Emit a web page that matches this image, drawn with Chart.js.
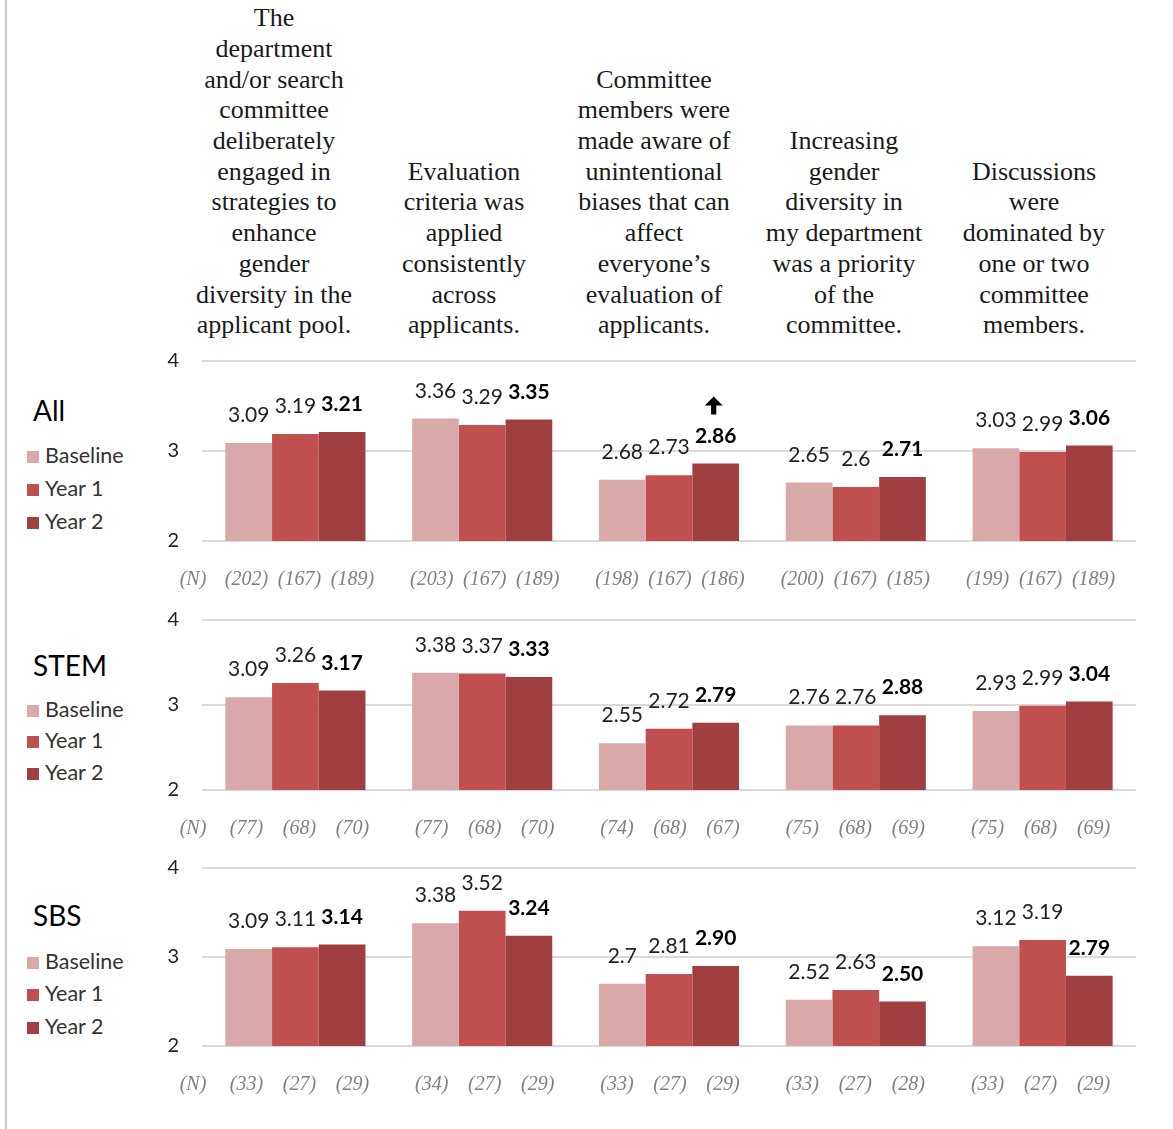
<!DOCTYPE html>
<html>
<head>
<meta charset="utf-8">
<script src="https://cdn.jsdelivr.net/npm/chart.js@4.4.1/dist/chart.umd.min.js"></script>
<style>
  body { margin: 0; background: #fff; width: 1173px; height: 1129px; position: relative; overflow: hidden; font-family: Lato, sans-serif; }
  #edge { position: absolute; left: 5px; top: 0; width: 2px; height: 1129px; background: #c9c9c9; z-index: 5; }
  .head { position: absolute; bottom: 788px; width: 240px; text-align: center; font-family: 'Liberation Serif', serif; font-size: 26px; line-height: 30.7px; color: #1a1a1a; }
  canvas { position: absolute; left: 0; }
  .panel { position: absolute; left: 33px; font-size: 28px; line-height: 34px; color: #000; }
  .leg { position: absolute; left: 27px; font-size: 21.5px; line-height: 24px; color: #333; white-space: nowrap; }
  .leg i { display: inline-block; width: 12px; height: 12px; margin-right: 6px; vertical-align: 0px; }
</style>
</head>
<body>
<div id="edge"></div>
<div id="heads"></div>
<div id="legends"></div>
<canvas id="c0"></canvas>
<canvas id="c1"></canvas>
<canvas id="c2"></canvas>
<script>
// column headers
var questions = [
  ["The", "department", "and/or search", "committee", "deliberately", "engaged in", "strategies to", "enhance", "gender", "diversity in the", "applicant pool."],
  ["Evaluation", "criteria was", "applied", "consistently", "across", "applicants."],
  ["Committee", "members were", "made aware of", "unintentional", "biases that can", "affect", "everyone\u2019s", "evaluation of", "applicants."],
  ["Increasing", "gender", "diversity in", "my department", "was a priority", "of the", "committee."],
  ["Discussions", "were", "dominated by", "one or two", "committee", "members."]
];
var categories = ["Q1", "Q2", "Q3", "Q4", "Q5"];
var seriesNames = ["Baseline", "Year 1", "Year 2"];
var seriesColors = ["#d9a9a9", "#c0504f", "#9f3f3f"];
var yTicks = [2, 3, 4];

// All
var allBaseline = [3.09, 3.36, 2.68, 2.65, 3.03];
var allYear1    = [3.19, 3.29, 2.73, 2.6, 2.99];
var allYear2    = [3.21, 3.35, 2.86, 2.71, 3.06];
var allN = [[202, 167, 189], [203, 167, 189], [198, 167, 186], [200, 167, 185], [199, 167, 189]];

// STEM
var stemBaseline = [3.09, 3.38, 2.55, 2.76, 2.93];
var stemYear1    = [3.26, 3.37, 2.72, 2.76, 2.99];
var stemYear2    = [3.17, 3.33, 2.79, 2.88, 3.04];
var stemN = [[77, 68, 70], [77, 68, 70], [74, 68, 67], [75, 68, 69], [75, 68, 69]];

// SBS
var sbsBaseline = [3.09, 3.38, 2.7, 2.52, 3.12];
var sbsYear1    = [3.11, 3.52, 2.81, 2.63, 3.19];
var sbsYear2    = [3.14, 3.24, 2.90, 2.50, 2.79];
var sbsN = [[33, 27, 29], [34, 27, 29], [33, 27, 29], [33, 27, 28], [33, 27, 29]];

// significant change marker: [panel, category]
var arrows = [[0, 2]];

var panels = [
  { name: "All",  data: [allBaseline, allYear1, allYear2],   n: allN,  top: 361, bottom: 541, nameY: 410, legY: [455, 488, 521] },
  { name: "STEM", data: [stemBaseline, stemYear1, stemYear2], n: stemN, top: 620, bottom: 790, nameY: 665, legY: [709, 740, 772] },
  { name: "SBS",  data: [sbsBaseline, sbsYear1, sbsYear2],   n: sbsN,  top: 868, bottom: 1046, nameY: 915, legY: [961, 993, 1026] }
];

var headX = [274, 464, 654, 844, 1034];
var heads = document.getElementById('heads');
questions.forEach(function (lines, i) {
  var d = document.createElement('div');
  d.className = 'head';
  d.style.left = (headX[i] - 120) + 'px';
  d.innerHTML = lines.join('<br>');
  heads.appendChild(d);
});

var legends = document.getElementById('legends');
panels.forEach(function (p) {
  var t = document.createElement('div');
  t.className = 'panel';
  t.style.top = (p.nameY - 17) + 'px';
  t.textContent = p.name;
  legends.appendChild(t);
  seriesNames.forEach(function (s, k) {
    var l = document.createElement('div');
    l.className = 'leg';
    l.style.top = (p.legY[k] - 12) + 'px';
    l.innerHTML = '<i style="background:' + seriesColors[k] + '"></i>' + s;
    legends.appendChild(l);
  });
});

var padTop = 40, padBottom = 60;

var labelPlugin = {
  id: 'barLabels',
  afterDatasetsDraw(chart) {
    var ctx = chart.ctx;
    var p = chart.options.plugins.barLabels;
    ctx.save();
    // values above bars
    chart.data.datasets.forEach(function (ds, i) {
      var meta = chart.getDatasetMeta(i);
      meta.data.forEach(function (bar, j) {
        var v = ds.data[j];
        ctx.font = (i == 2 ? 'bold ' : '') + '21px Lato';
        ctx.fillStyle = i == 2 ? '#000' : '#222';
        ctx.textAlign = 'center';
        ctx.textBaseline = 'alphabetic';
        ctx.fillText(i == 2 ? v.toFixed(2) : String(v), bar.x, bar.y - 21);
      });
    });
    // (N) row
    var yN = chart.chartArea.bottom + 39;
    ctx.font = 'italic 20px "Liberation Serif"';
    ctx.fillStyle = '#808080';
    ctx.textAlign = 'center';
    ctx.textBaseline = 'middle';
    ctx.fillText('(N)', 193, yN);
    var xs = chart.scales.x;
    p.n.forEach(function (grp, j) {
      var cx = xs.getPixelForValue(j);
      grp.forEach(function (n, k) {
        ctx.fillText('(' + n + ')', cx + (k - 1) * 53 + 4 - j * 1.5, yN);
      });
    });
    // arrows
    arrows.forEach(function (a) {
      if (a[0] != p.index) return;
      var bar = chart.getDatasetMeta(2).data[a[1]];
      var x = bar.x - 2, tip = bar.y - 67;
      ctx.fillStyle = '#000';
      ctx.beginPath();
      ctx.moveTo(x, tip);
      ctx.lineTo(x + 9, tip + 9);
      ctx.lineTo(x + 2.6, tip + 9);
      ctx.lineTo(x + 2.6, tip + 18);
      ctx.lineTo(x - 2.6, tip + 18);
      ctx.lineTo(x - 2.6, tip + 9);
      ctx.lineTo(x - 9, tip + 9);
      ctx.closePath();
      ctx.fill();
    });
    ctx.restore();
  }
};

panels.forEach(function (p, idx) {
  var cv = document.getElementById('c' + idx);
  var h = (p.bottom - p.top) + padTop + padBottom;
  cv.width = 1173;
  cv.height = h;
  cv.style.top = (p.top - padTop) + 'px';
  new Chart(cv.getContext('2d'), {
    type: 'bar',
    data: {
      labels: categories,
      datasets: seriesNames.map(function (s, k) {
        return {
          label: s,
          data: p.data[k],
          backgroundColor: seriesColors[k],
          borderWidth: 0,
          categoryPercentage: 0.75,
          barPercentage: 1.0
        };
      })
    },
    options: {
      responsive: false,
      animation: false,
      devicePixelRatio: 1,
      layout: { padding: { left: 150, right: 37, top: padTop, bottom: padBottom } },
      plugins: {
        legend: { display: false },
        tooltip: { enabled: false },
        barLabels: { n: p.n, index: idx }
      },
      scales: {
        x: { display: false },
        y: {
          min: 2, max: 4,
          afterFit: function (scale) { scale.width = 52; },
          afterBuildTicks: function (scale) { scale.ticks = yTicks.map(function (v) { return { value: v }; }); },
          ticks: { padding: 23, color: '#222', font: { family: 'Lato', size: 20 } },
          grid: { color: '#dadada', lineWidth: 2, drawTicks: false },
          border: { display: false }
        }
      }
    },
    plugins: [labelPlugin]
  });
});
</script>
</body>
</html>
